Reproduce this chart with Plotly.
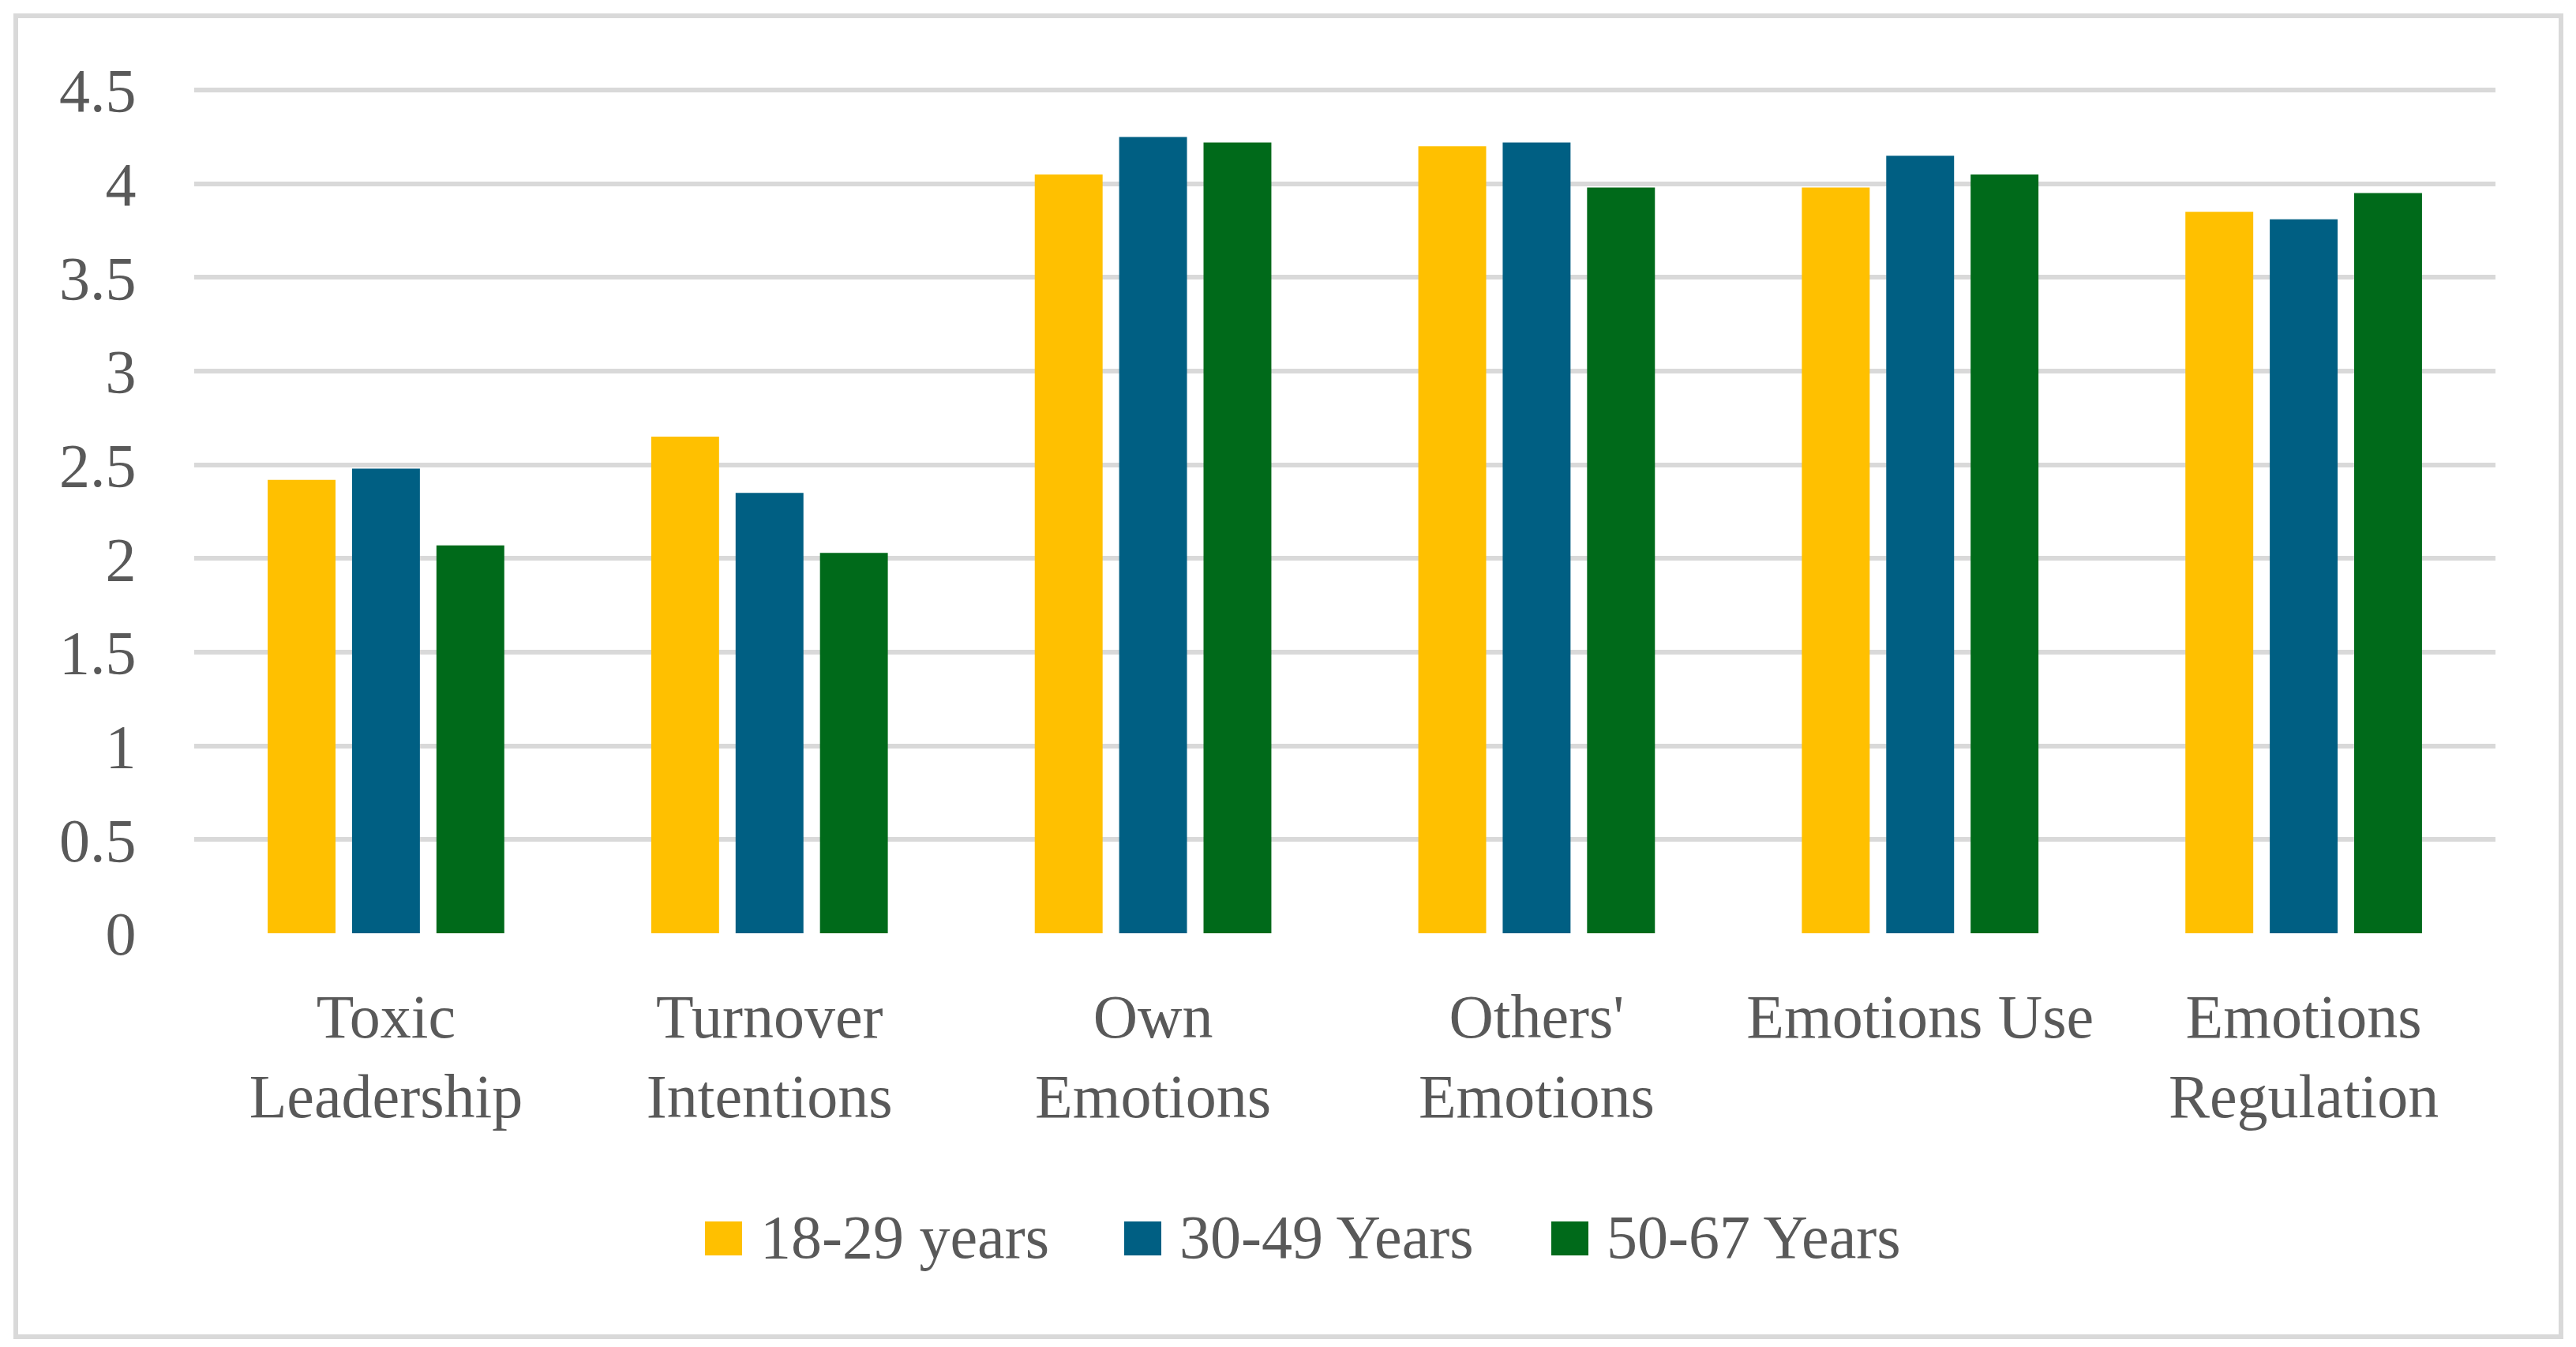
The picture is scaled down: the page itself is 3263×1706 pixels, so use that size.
import plotly.graph_objects as go

categories = ["Toxic<br>Leadership", "Turnover<br>Intentions", "Own<br>Emotions",
              "Others'<br>Emotions", "Emotions Use", "Emotions<br>Regulation"]
series_names = ["18-29 years", "30-49 Years", "50-67 Years"]
vals_18_29 = [2.42, 2.65, 4.05, 4.20, 3.98, 3.85]
vals_30_49 = [2.48, 2.35, 4.25, 4.22, 4.15, 3.81]
vals_50_67 = [2.07, 2.03, 4.22, 3.98, 4.05, 3.95]
colors = ["#FFC000", "#005F83", "#006A1A"]
y_ticks = [0, 0.5, 1, 1.5, 2, 2.5, 3, 3.5, 4, 4.5]
y_tick_text = ["0", "0.5", "1", "1.5", "2", "2.5", "3", "3.5", "4", "4.5"]

W, H = 3263, 1706
ML, MR, MT, MB = 246, 102, 111, 524
PW, PH = W - ML - MR, H - MT - MB
FONT = "Liberation Serif"
FS = 78
TXT = "#595959"
GRID = "#D9D9D9"

def px(x):
    return (x - ML) / PW

def py(y):
    return (H - MB - y) / PH

fig = go.Figure()
for name, vals, col in zip(series_names, [vals_18_29, vals_30_49, vals_50_67], colors):
    fig.add_trace(go.Bar(x=categories, y=vals, name=name, marker_color=col,
                         marker_line_width=0, showlegend=False))

# custom legend (large swatches)
leg_swatch_x = [893, 1424, 1965]
shapes = []
annotations = []
for sx, name, col in zip(leg_swatch_x, series_names, colors):
    shapes.append(dict(type="rect", xref="paper", yref="paper",
                       x0=px(sx), x1=px(sx + 47), y0=py(1590), y1=py(1547),
                       fillcolor=col, line_width=0))
    annotations.append(dict(text=name, xref="paper", yref="paper",
                            x=px(sx + 68), y=py(1566), xanchor="left", yanchor="middle",
                            showarrow=False, font=dict(family=FONT, size=FS, color=TXT)))
# outer border
shapes.append(dict(type="rect", xref="paper", yref="paper",
                   x0=px(20), x1=px(3244), y0=py(1693), y1=py(20),
                   line=dict(color=GRID, width=6), fillcolor="rgba(0,0,0,0)", layer="below"))

fig.update_layout(
    width=W, height=H, autosize=False,
    margin=dict(l=ML, r=MR, t=MT, b=MB, pad=0),
    paper_bgcolor="white", plot_bgcolor="white",
    barmode="group", bargap=0.34, bargroupgap=0.196,
    font=dict(family=FONT, size=FS, color=TXT),
    shapes=shapes, annotations=annotations,
    showlegend=False,
)
fig.update_xaxes(showgrid=False, zeroline=False, showline=False,
                 ticks="outside", ticklen=37, tickcolor="rgba(0,0,0,0)",
                 tickfont=dict(family=FONT, size=FS, color=TXT))
fig.update_yaxes(range=[0, 4.513], tickvals=y_ticks, ticktext=y_tick_text,
                 showgrid=True, gridcolor=GRID, gridwidth=6,
                 zeroline=False, showline=False,
                 ticks="outside", ticklen=57, tickcolor="rgba(0,0,0,0)",
                 tickfont=dict(family=FONT, size=FS, color=TXT))

fig.write_html("out.html", config={"displayModeBar": False},
               post_script="document.body.style.margin='0';document.body.style.overflow='hidden';")
